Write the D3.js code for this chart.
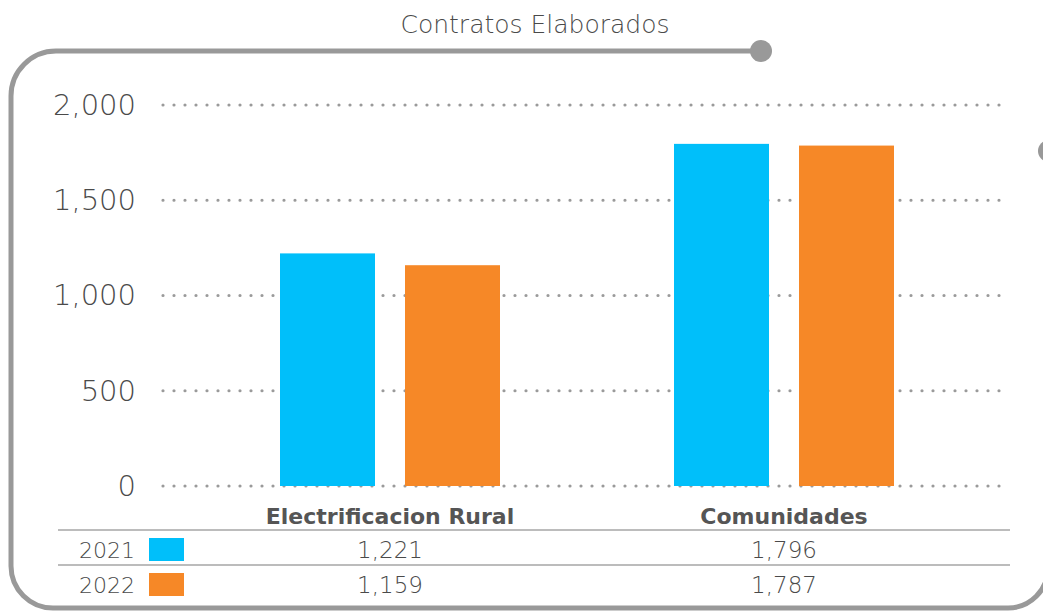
<!DOCTYPE html>
<html>
<head>
<meta charset="utf-8">
<script src="https://d3js.org/d3.v7.min.js"></script>
<style>
  body { margin: 0; background: white; }
  text { font-family: "DejaVu Sans", sans-serif; fill: #4a4a4a; }
</style>
</head>
<body>
<svg id="chart" width="1043" height="611"></svg>
<script>
// chart data
var categories = ["Electrificacion Rural", "Comunidades"];
var years = ["2021", "2022"];
var values2021 = [1221, 1796];
var values2022 = [1159, 1787];
var yTicks = [0, 500, 1000, 1500, 2000];
var colors = ["#00BFFA", "#F68827"];

var series = [values2021, values2022];

var svg = d3.select("#chart");

// frame around the chart
var frame = svg.append("g")
  .attr("fill", "none")
  .attr("stroke", "#999999")
  .attr("stroke-width", 5);

frame.append("path")
  .attr("d", "M761 51 L56 51 A45 45 0 0 0 11 96 L11 566 A42 42 0 0 0 53 608 L1008 608 A40 40 0 0 0 1048 568 L1048 151");

svg.append("circle").attr("cx", 761).attr("cy", 51).attr("r", 11).attr("fill", "#999999");
svg.append("circle").attr("cx", 1049).attr("cy", 151).attr("r", 11).attr("fill", "#999999");

// title
svg.append("text")
  .attr("x", 535)
  .attr("y", 33)
  .attr("text-anchor", "middle")
  .attr("font-size", "25px")
  .attr("font-weight", "300")
  .text("Contratos Elaborados");

// scales
var y = d3.scaleLinear().domain([0, 2000]).range([486, 105]);
var x0 = d3.scaleBand().domain(categories).range([193, 981]);
var x1 = d3.scaleBand().domain(years).range([87, 307]).paddingInner(0.24);

// dotted grid lines
svg.append("g")
  .selectAll("line")
  .data(yTicks)
  .enter().append("line")
  .attr("x1", 163)
  .attr("x2", 1006)
  .attr("y1", function(d) { return y(d); })
  .attr("y2", function(d) { return y(d); })
  .attr("stroke", "#9a9a9a")
  .attr("stroke-width", 3.2)
  .attr("stroke-linecap", "round")
  .attr("stroke-dasharray", "0 11");

// y axis labels
var yAxis = svg.append("g")
  .attr("transform", "translate(148,0)")
  .call(d3.axisLeft(y).tickValues(yTicks).tickFormat(d3.format(",")).tickSize(0).tickPadding(12));
yAxis.select(".domain").remove();
yAxis.selectAll("text")
  .attr("font-size", "29px")
  .attr("font-family", "DejaVu Sans, sans-serif")
  .attr("fill", "#404040")
  .style("font-weight", "300");

// bars
var groups = svg.append("g")
  .selectAll("g")
  .data(categories)
  .enter().append("g")
  .attr("transform", function(d) { return "translate(" + x0(d) + ",0)"; });

groups.selectAll("rect")
  .data(function(d, i) {
    return years.map(function(yr, j) { return {year: yr, value: series[j][i], color: colors[j]}; });
  })
  .enter().append("rect")
  .attr("x", function(d) { return x1(d.year); })
  .attr("width", x1.bandwidth())
  .attr("y", function(d) { return y(d.value); })
  .attr("height", function(d) { return y(0) - y(d.value); })
  .attr("fill", function(d) { return d.color; });

// category labels
svg.append("g")
  .selectAll("text")
  .data(categories)
  .enter().append("text")
  .attr("x", function(d) { return x0(d) + x0.bandwidth() / 2; })
  .attr("y", 524)
  .attr("text-anchor", "middle")
  .attr("font-size", "22px")
  .attr("font-weight", "bold")
  .style("fill", "#555555")
  .text(function(d) { return d; });

// data table
var rowY = [530, 565];
svg.append("g")
  .selectAll("line")
  .data(rowY)
  .enter().append("line")
  .attr("x1", 58)
  .attr("x2", 1010)
  .attr("y1", function(d) { return d; })
  .attr("y2", function(d) { return d; })
  .attr("stroke", "#a6a6a6")
  .attr("stroke-width", 1.5);

var fmt = d3.format(",");
years.forEach(function(yr, j) {
  var base = 558 + j * 35;
  svg.append("text")
    .attr("x", 135)
    .attr("y", base)
    .attr("text-anchor", "end")
    .attr("font-size", "22px")
    .attr("font-weight", "300")
    .text(yr);
  svg.append("rect")
    .attr("x", 149)
    .attr("y", base - 20)
    .attr("width", 35)
    .attr("height", 23)
    .attr("fill", colors[j]);
  svg.append("g")
    .selectAll("text")
    .data(categories)
    .enter().append("text")
    .attr("x", function(d) { return x0(d) + x0.bandwidth() / 2; })
    .attr("y", base)
    .attr("text-anchor", "middle")
    .attr("font-size", "23px")
    .attr("font-weight", "300")
    .text(function(d, i) { return fmt(series[j][i]); });
});
</script>
</body>
</html>
